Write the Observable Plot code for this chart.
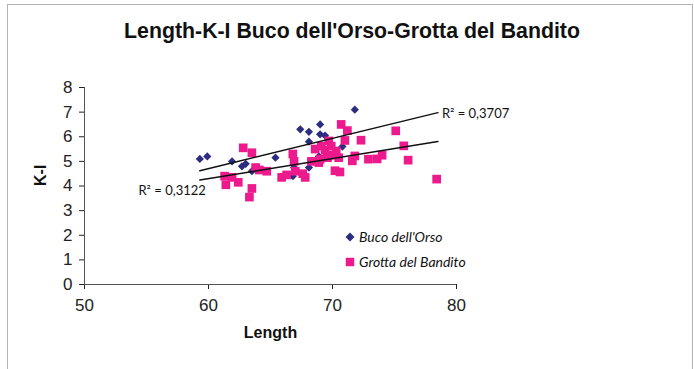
<!DOCTYPE html>
<html>
<head>
<meta charset="utf-8">
<script src="https://cdn.jsdelivr.net/npm/d3@7"></script>
<script src="https://cdn.jsdelivr.net/npm/@observablehq/plot@0.6"></script>
<style>
  html, body { margin: 0; padding: 0; background: #fff; }
  #wrap { position: relative; width: 694px; height: 369px; overflow: hidden; background: #fff; }
  #frame { position: absolute; left: 7px; top: 4px; width: 686px; height: 400px; border: 1.5px solid #b4b4b4; box-sizing: border-box; }
  #title { position: absolute; left: 0; width: 704px; top: 19px; text-align: center;
           font: bold 21.3px "Liberation Sans", Arial, sans-serif; color: #111; }
  #chart { position: absolute; left: 0; top: 0; }
  #legend { position: absolute; left: 344px; top: 224px; font: italic 14px Lato, "Open Sans", sans-serif; color: #111; }
  #legend .row { display: flex; align-items: center; height: 25px; }
  #legend svg { width: 12px; height: 12px; margin-right: 3px; }
</style>
</head>
<body>
<div id="wrap">
  <div id="frame"></div>
  <div id="chart"></div>
  <div id="title">Length-K-I Buco dell'Orso-Grotta del Bandito</div>
  <div id="legend"></div>
</div>
<script>
// Buco dell'Orso: length and K-I index
const bucoLength = [59.3, 59.9, 61.9, 62.7, 63.0, 63.5, 65.4, 66.8, 66.9, 67.4, 68.1, 68.1, 68.1, 69.0, 69.0, 69.4, 71.8, 70.8, 68.9];
const bucoKI     = [5.10, 5.20, 5.00, 4.80, 4.90, 4.60, 5.15, 4.40, 4.75, 6.30, 6.20, 5.80, 4.75, 6.50, 6.10, 6.05, 7.10, 5.60, 5.20];

// Grotta del Bandito: length and K-I index
const grottaLength = [61.3, 61.4, 61.9, 62.4, 62.8, 63.5, 63.3, 63.5, 63.8, 64.1, 64.7, 65.9, 66.3, 66.8, 66.9, 67.0,
                      67.6, 67.8, 68.3, 68.6, 68.9, 69.1, 69.4, 69.7, 69.9, 70.0, 70.3, 70.5, 70.2, 70.6, 70.7, 71.2,
                      71.0, 72.3, 71.8, 71.6, 72.9, 73.6, 74.0, 75.1, 75.75, 76.1, 78.4, 69.6, 69.0];
const grottaKI     = [4.40, 4.05, 4.35, 4.15, 5.55, 5.35, 3.55, 3.90, 4.75, 4.65, 4.60, 4.35, 4.45, 5.30, 5.00, 4.60,
                      4.50, 4.35, 5.00, 5.50, 4.95, 5.62, 5.45, 5.83, 5.62, 5.25, 5.42, 5.15, 4.62, 4.57, 6.50, 6.25,
                      5.85, 5.86, 5.22, 5.02, 5.09, 5.10, 5.25, 6.24, 5.63, 5.05, 4.28, 5.15, 5.09];

// Linear trendlines (end points) and their R² values
const trendLength   = [59.3, 78.5];
const bucoTrendKI   = [4.62, 6.98];
const grottaTrendKI = [4.24, 5.81];
const bucoR2   = "R² = 0,3707";
const grottaR2 = "R² = 0,3122";

// Axis ticks
const xTicks = [50, 60, 70, 80];
const yTicks = [0, 1, 2, 3, 4, 5, 6, 7, 8];

const seriesNames = ["Buco dell'Orso", "Grotta del Bandito"];
const navy = "#2c2c80";
const pink = "#ec1a8c";

const buco = bucoLength.map((x, i) => ({x, y: bucoKI[i]}));
const grotta = grottaLength.map((x, i) => ({x, y: grottaKI[i]}));
const bucoTrend = trendLength.map((x, i) => ({x, y: bucoTrendKI[i]}));
const grottaTrend = trendLength.map((x, i) => ({x, y: grottaTrendKI[i]}));

const labelFont = "Lato, 'Open Sans', sans-serif";

const chart = Plot.plot({
  width: 694,
  height: 369,
  marginLeft: 84,
  marginRight: 238,
  marginTop: 87,
  marginBottom: 85,
  style: {fontFamily: "'Liberation Sans', Arial, sans-serif", fontSize: "17px", color: "#222", background: "transparent", overflow: "visible"},
  x: {domain: [50, 80], ticks: xTicks, tickSize: 5, tickPadding: 9, label: null},
  y: {domain: [0, 8], ticks: yTicks, tickSize: 5, tickPadding: 7, label: null},
  marks: [
    Plot.ruleX([50], {stroke: "#555", strokeWidth: 1}),
    Plot.ruleY([0], {stroke: "#555", strokeWidth: 1}),
    Plot.dot(buco, {x: "x", y: "y", symbol: d3.symbolDiamond2, r: 3.7, fill: navy, stroke: "none"}),
    Plot.dot(grotta, {x: "x", y: "y", symbol: "square", r: 4.9, fill: pink, stroke: "none"}),
    Plot.line(bucoTrend, {x: "x", y: "y", stroke: "#111", strokeWidth: 1.5}),
    Plot.line(grottaTrend, {x: "x", y: "y", stroke: "#111", strokeWidth: 1.5}),
    Plot.text([bucoTrend[1]], {x: "x", y: "y", text: () => bucoR2, textAnchor: "start", dx: 4, dy: 1,
      fontSize: 13, fontFamily: labelFont, fill: "#111"}),
    Plot.text([grottaTrend[0]], {x: "x", y: "y", text: () => grottaR2, textAnchor: "end", dx: 6, dy: 11,
      fontSize: 13, fontFamily: labelFont, fill: "#111"}),
    Plot.text(["Length"], {frameAnchor: "bottom", dy: 53, text: d => d, fontWeight: "bold", fontSize: 16, fill: "#111"}),
    Plot.text(["K-I"], {frameAnchor: "left", dx: -44, rotate: -90, text: d => d, fontWeight: "bold", fontSize: 16, fill: "#111"})
  ]
});
document.getElementById("chart").appendChild(chart);

// Legend: one row per series with its marker
const legend = d3.select("#legend");
const markers = [
  {name: seriesNames[0], path: d3.symbol(d3.symbolDiamond2, 52)(), color: navy},
  {name: seriesNames[1], path: d3.symbol(d3.symbolSquare, 72)(), color: pink}
];
for (const m of markers) {
  const row = legend.append("div").attr("class", "row");
  row.append("svg").attr("viewBox", "-6 -6 12 12")
    .append("path").attr("d", m.path).attr("fill", m.color);
  row.append("span").text(m.name);
}
</script>
</body>
</html>
